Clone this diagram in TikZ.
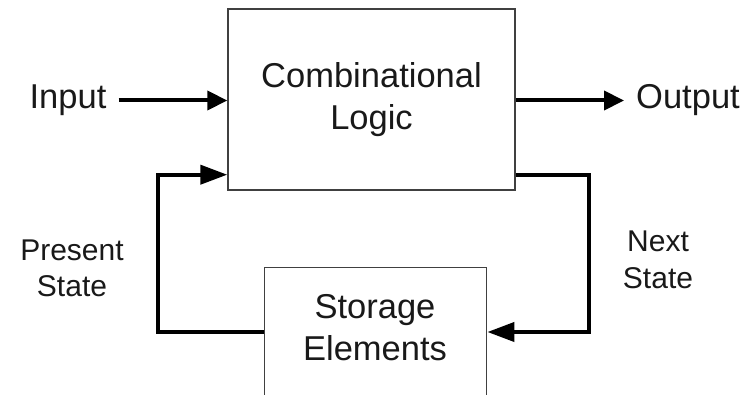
\documentclass[tikz,border=0pt]{standalone}
\usepackage{fontspec}
\setmainfont{Liberation Sans}
\usetikzlibrary{arrows.meta}
\begin{document}
\begin{tikzpicture}[x=1pt,y=-1pt,
 box/.style={draw=black!75, line width=1.4pt, inner sep=0pt},
 lbl/.style={font=\fontsize{34.5}{42}\selectfont, text=black!90, align=center, inner sep=0pt},
 slbl/.style={font=\fontsize{30}{36.5}\selectfont, text=black!90, align=center, inner sep=0pt},
 arr/.style={line width=4pt, -{Triangle[length=20pt,width=19pt]}},
 farr/.style={line width=4pt, line join=miter, -{Triangle[length=27pt,width=19pt]}},
]
\clip (0,0) rectangle (753,395);
\node[box, minimum width=287pt, minimum height=181pt] (comb) at (371.5,99.5) {};
\node[lbl] (combt) at (371.5,100) {Combinational\\Logic};
\node[box, minimum width=222pt, minimum height=170pt, anchor=north west] (store) at (264,267) {};
\node[lbl] (storet) at (375,328) {Storage\\Elements};
\node[lbl] (input) at (68,100.5) {Input};
\node[lbl] (output) at (688,100.5) {Output};
\node[slbl] (present) at (72,268.5) {Present\\State};
\node[slbl] (next) at (658,260) {Next\\State};
\draw[arr] ([xshift=12pt]input.east) -- (comb.west |- input.east);
\draw[arr] (comb.east |- output.west) -- ([xshift=-12pt]output.west);
\coordinate (rc) at (589,332);
\coordinate (lc) at (158,332);
\draw[farr] ([yshift=16pt]comb.south east) -| (rc) -- (store.east |- rc);
\draw[farr] (store.west |- lc) -- (lc) |- ([yshift=16pt]comb.south west);
\end{tikzpicture}
\end{document}
